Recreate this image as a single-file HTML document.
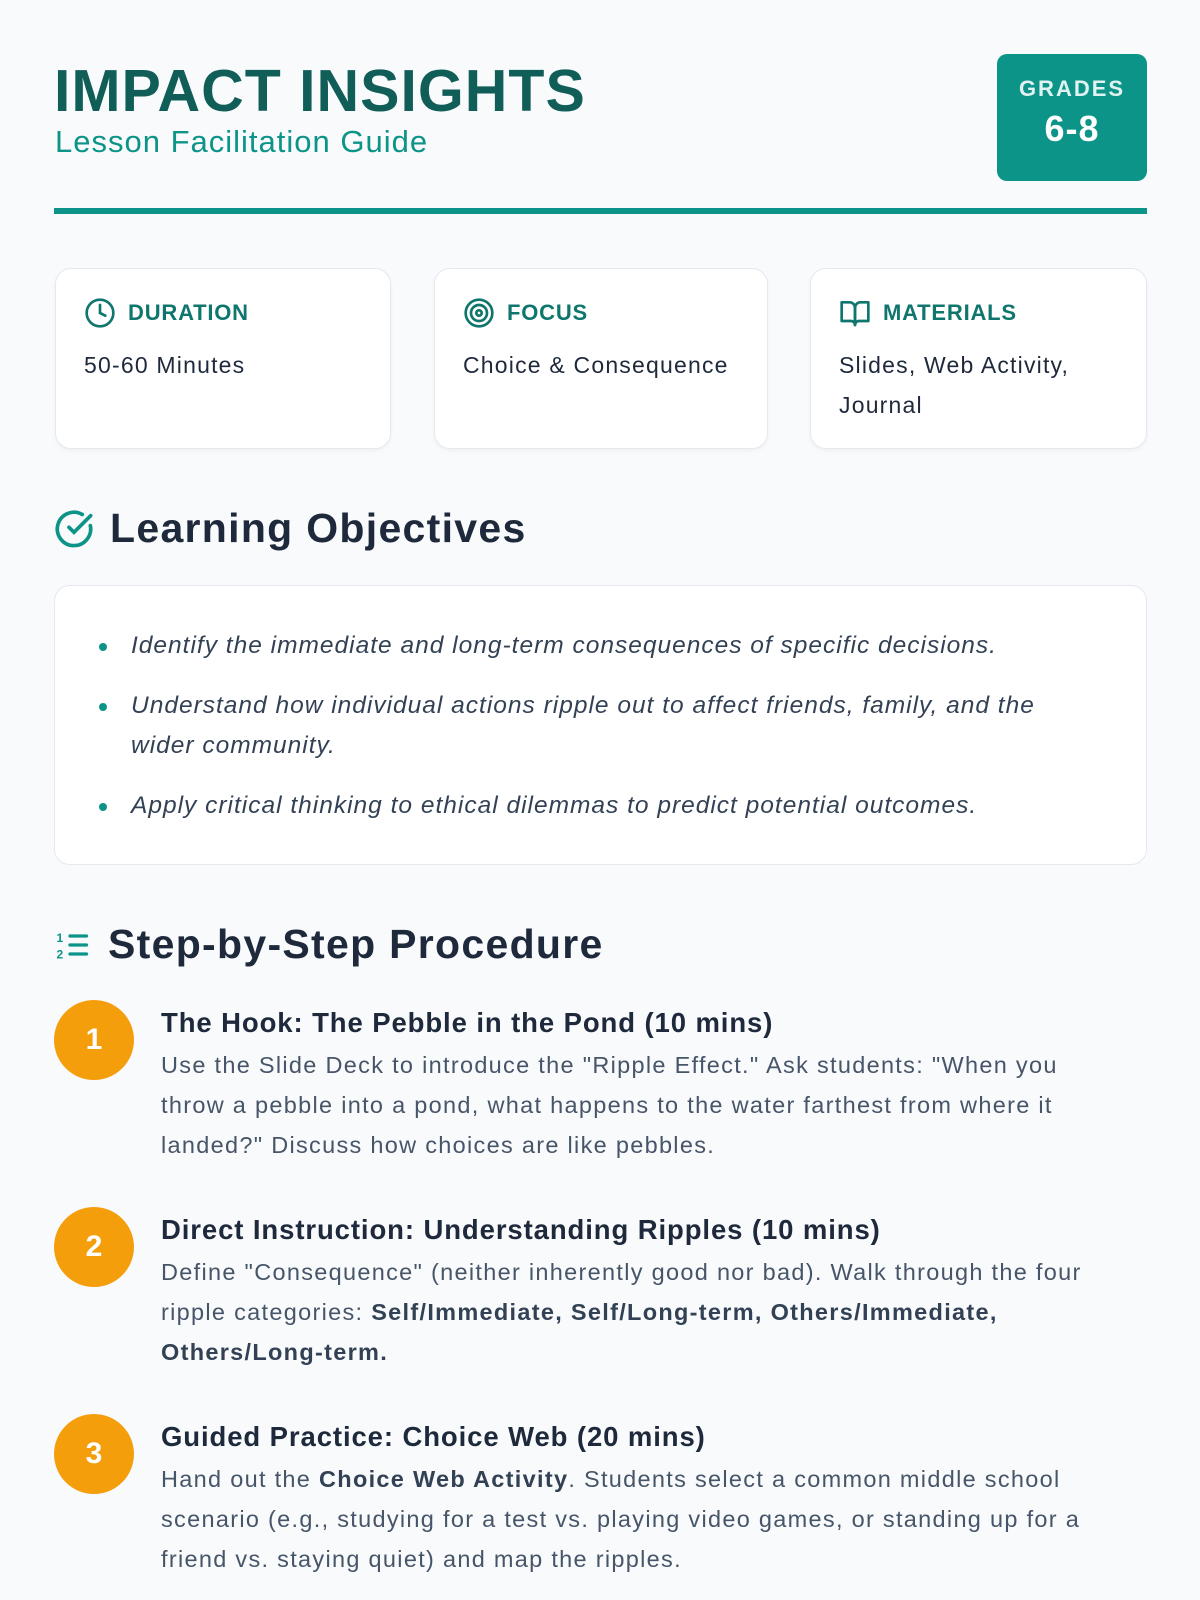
<!DOCTYPE html>
<html><head><meta charset="utf-8"><style>
*{margin:0;padding:0;box-sizing:border-box}
body{width:1200px;height:1600px;background:#f8fafc;font-family:"Liberation Sans",sans-serif;position:relative;overflow:hidden;color:#1e293b}
.abs{position:absolute}
.title{left:54px;top:56px;font-size:59px;font-weight:bold;color:#115e59;letter-spacing:1px;line-height:70px}
.sub{left:55px;top:124px;font-size:31px;color:#0d9488;line-height:36px;letter-spacing:1px}
.badge{left:997px;top:54px;width:150px;height:127px;background:#0d9488;border-radius:10px;color:#fff;text-align:center}
.badge .g{margin-top:22px;font-size:22px;font-weight:bold;letter-spacing:2px;color:#e0f2f1}
.badge .n{font-size:36px;font-weight:bold;margin-top:6px;letter-spacing:1px}
.rule{left:54px;top:208px;width:1093px;height:6px;background:#0d9488}
.card{top:268px;height:181px;background:#fff;border:1.5px solid #e5e9ef;border-radius:16px;box-shadow:0 2px 4px rgba(0,0,0,.04)}
.card .lab{position:absolute;left:28px;top:28px;font-size:22px;font-weight:bold;color:#0f766e;display:flex;align-items:center;gap:12px;letter-spacing:.8px}
.card .val{position:absolute;left:28px;top:76px;font-size:23px;line-height:40px;color:#1e293b;width:260px;letter-spacing:1.2px}
.h2{left:54px;font-size:41px;font-weight:bold;color:#1e293b;display:flex;align-items:center;gap:16px;letter-spacing:1.3px}
.obj{left:54px;top:585px;width:1093px;height:280px;background:#fff;border:1.5px solid #e5e9ef;border-radius:16px}
.obj li{position:absolute;left:76px;font-size:24.5px;font-style:italic;color:#334155;line-height:40px;list-style:none;width:940px;letter-spacing:1px}
.obj li:before{content:"";position:absolute;left:-32px;top:17px;width:8px;height:8px;border-radius:50%;background:#0d9488}
.circ{left:54px;width:80px;height:80px;border-radius:50%;background:#f59e0b;color:#fff;font-size:30px;font-weight:bold;text-align:center;line-height:80px}
.st{left:161px;width:935px}
.st h3{font-size:27.5px;font-weight:bold;color:#1e293b;line-height:40px;letter-spacing:.9px;white-space:nowrap}
.st p{font-size:23.5px;color:#475569;line-height:40px;margin-top:2px;letter-spacing:1.3px}
.st b{color:#334155}
</style></head><body>
<div class="abs title">IMPACT INSIGHTS</div>
<div class="abs sub">Lesson Facilitation Guide</div>
<div class="abs badge"><div class="g">GRADES</div><div class="n">6-8</div></div>
<div class="abs rule"></div>

<div class="abs card" style="left:55px;width:336px"><div class="lab"><svg width="32" height="32" viewBox="0 0 24 24" fill="none" stroke="#0f766e" stroke-width="2" stroke-linecap="round"><circle cx="12" cy="12" r="10"/><path d="M12 6v6l4 2"/></svg>DURATION</div><div class="val">50-60 Minutes</div></div>
<div class="abs card" style="left:434px;width:334px"><div class="lab"><svg width="32" height="32" viewBox="0 0 24 24" fill="none" stroke="#0f766e" stroke-width="2"><circle cx="12" cy="12" r="10"/><circle cx="12" cy="12" r="6"/><circle cx="12" cy="12" r="2"/></svg>FOCUS</div><div class="val" style="width:300px">Choice &amp; Consequence</div></div>
<div class="abs card" style="left:810px;width:337px"><div class="lab"><svg width="32" height="32" viewBox="0 0 24 24" fill="none" stroke="#0f766e" stroke-width="2" stroke-linejoin="round"><path d="M2 4h6a4 4 0 0 1 4 4v13a3 3 0 0 0-3-3H2z"/><path d="M22 4h-6a4 4 0 0 0-4 4v13a3 3 0 0 1 3-3h7z"/></svg>MATERIALS</div><div class="val">Slides, Web Activity, Journal</div></div>

<div class="abs h2" style="top:505px"><svg width="40" height="40" viewBox="0 0 24 24" fill="none" stroke="#0d9488" stroke-width="2.2" stroke-linecap="round"><path d="M21.8 10A10 10 0 1 1 17 3.3"/><path d="M9 11l3 3L22 4"/></svg>Learning Objectives</div>
<ul class="abs obj">
<li style="top:40px">Identify the immediate and long-term consequences of specific decisions.</li>
<li style="top:100px">Understand how individual actions ripple out to affect friends, family, and the wider community.</li>
<li style="top:200px">Apply critical thinking to ethical dilemmas to predict potential outcomes.</li>
</ul>

<div class="abs h2" style="top:921px"><svg width="38" height="36" viewBox="0 0 24 24" fill="none" stroke="#0d9488" stroke-width="2.2" stroke-linecap="round"><path d="M10 6h11M10 12h11M10 18h11"/><text x="1" y="10" font-size="8" font-weight="bold" fill="#0d9488" stroke="none" font-family="Liberation Sans">1</text><text x="1" y="21" font-size="8" font-weight="bold" fill="#0d9488" stroke="none" font-family="Liberation Sans">2</text></svg>Step-by-Step Procedure</div>

<div class="abs circ" style="top:1000px">1</div>
<div class="abs st" style="top:1003px"><h3>The Hook: The Pebble in the Pond (10 mins)</h3><p>Use the Slide Deck to introduce the "Ripple Effect." Ask students: "When you throw a pebble into a pond, what happens to the water farthest from where it landed?" Discuss how choices are like pebbles.</p></div>

<div class="abs circ" style="top:1207px">2</div>
<div class="abs st" style="top:1210px"><h3>Direct Instruction: Understanding Ripples (10 mins)</h3><p>Define "Consequence" (neither inherently good nor bad). Walk through the four ripple categories: <b>Self/Immediate, Self/Long-term, Others/Immediate, Others/Long-term.</b></p></div>

<div class="abs circ" style="top:1414px">3</div>
<div class="abs st" style="top:1417px"><h3>Guided Practice: Choice Web (20 mins)</h3><p>Hand out the <b>Choice Web Activity</b>. Students select a common middle school scenario (e.g., studying for a test vs. playing video games, or standing up for a friend vs. staying quiet) and map the ripples.</p></div>
</body></html>
